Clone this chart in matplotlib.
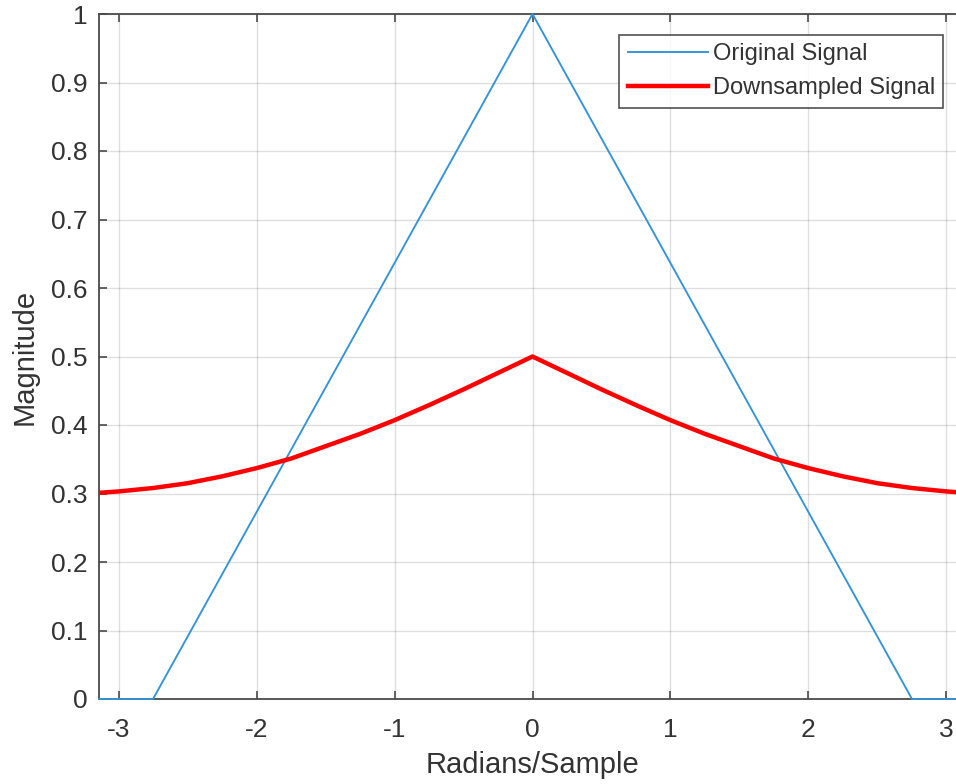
import numpy as np
import matplotlib
matplotlib.use("Agg")
import matplotlib.pyplot as plt

plt.rcParams['font.family'] = ['Liberation Sans', 'DejaVu Sans']

# original spectrum (triangle)
orig_x = [-np.pi, -2.75, 0.0, 2.75, np.pi]
orig_y = [0.0, 0.0, 1.0, 0.0, 0.0]

# downsampled spectrum, read point by point
down_x = [-np.pi, -3.0, -2.75, -2.5, -2.25, -2.0, -1.75, -1.5, -1.25, -1.0,
          -0.75, -0.5, -0.25, 0.0, 0.25, 0.5, 0.75, 1.0, 1.25, 1.5, 1.75,
          2.0, 2.25, 2.5, 2.75, 3.0, np.pi]
down_y = [0.301, 0.303, 0.308, 0.315, 0.325, 0.337, 0.351, 0.369, 0.387, 0.407,
          0.429, 0.452, 0.476, 0.500, 0.476, 0.452, 0.429, 0.407, 0.387, 0.369, 0.351,
          0.337, 0.325, 0.315, 0.308, 0.303, 0.301]

xticks = [-3, -2, -1, 0, 1, 2, 3]
yticks = [0, 0.1, 0.2, 0.3, 0.4, 0.5, 0.6, 0.7, 0.8, 0.9, 1]

fig = plt.figure(figsize=(9.56, 7.84), dpi=100)
ax = fig.add_axes([99/956, 85/784, 867/956, 685/784])

# lines sit above the spines so the flat zero parts show on the bottom axis
ax.plot(orig_x, orig_y, color='#3592d4', lw=1.35, label='Original Signal',
        zorder=3, clip_on=False)
ax.plot(down_x, down_y, color='#FF0000', lw=3.2, label='Downsampled Signal',
        zorder=3)

ax.set_xlim(-np.pi, np.pi)
ax.set_ylim(0, 1)
ax.set_xticks(xticks)
ax.set_yticks(yticks)
ax.set_xticklabels([str(t) for t in xticks])
ax.set_yticklabels(['0' if t == 0 else ('1' if t == 1 else f'{t:g}') for t in yticks])

dark = '#333333'
for s in ax.spines.values():
    s.set_color('#4a4a4a')
    s.set_linewidth(1.3)
ax.tick_params(direction='in', length=6, width=1.2, colors='#4a4a4a',
               labelcolor=dark, labelsize=19, top=True, right=True)
ax.tick_params(axis='x', pad=14)
ax.tick_params(axis='y', pad=8)
ax.grid(True, color='#262626', alpha=0.15, lw=1.0)

ax.set_xlabel('Radians/Sample', fontsize=21, color=dark, labelpad=6)
ax.set_ylabel('Magnitude', fontsize=21, color=dark, labelpad=9)

leg = ax.legend(loc='upper right', bbox_to_anchor=(0.9735, 0.969),
                borderaxespad=0, fontsize=17, frameon=True, fancybox=False,
                handlelength=3.4, handletextpad=0.2, borderpad=0.35,
                labelspacing=0.5)
leg.get_frame().set_edgecolor('#262626')
leg.get_frame().set_linewidth(1.2)
for t in leg.get_texts():
    t.set_color(dark)

fig.savefig('out.png', dpi=100)
